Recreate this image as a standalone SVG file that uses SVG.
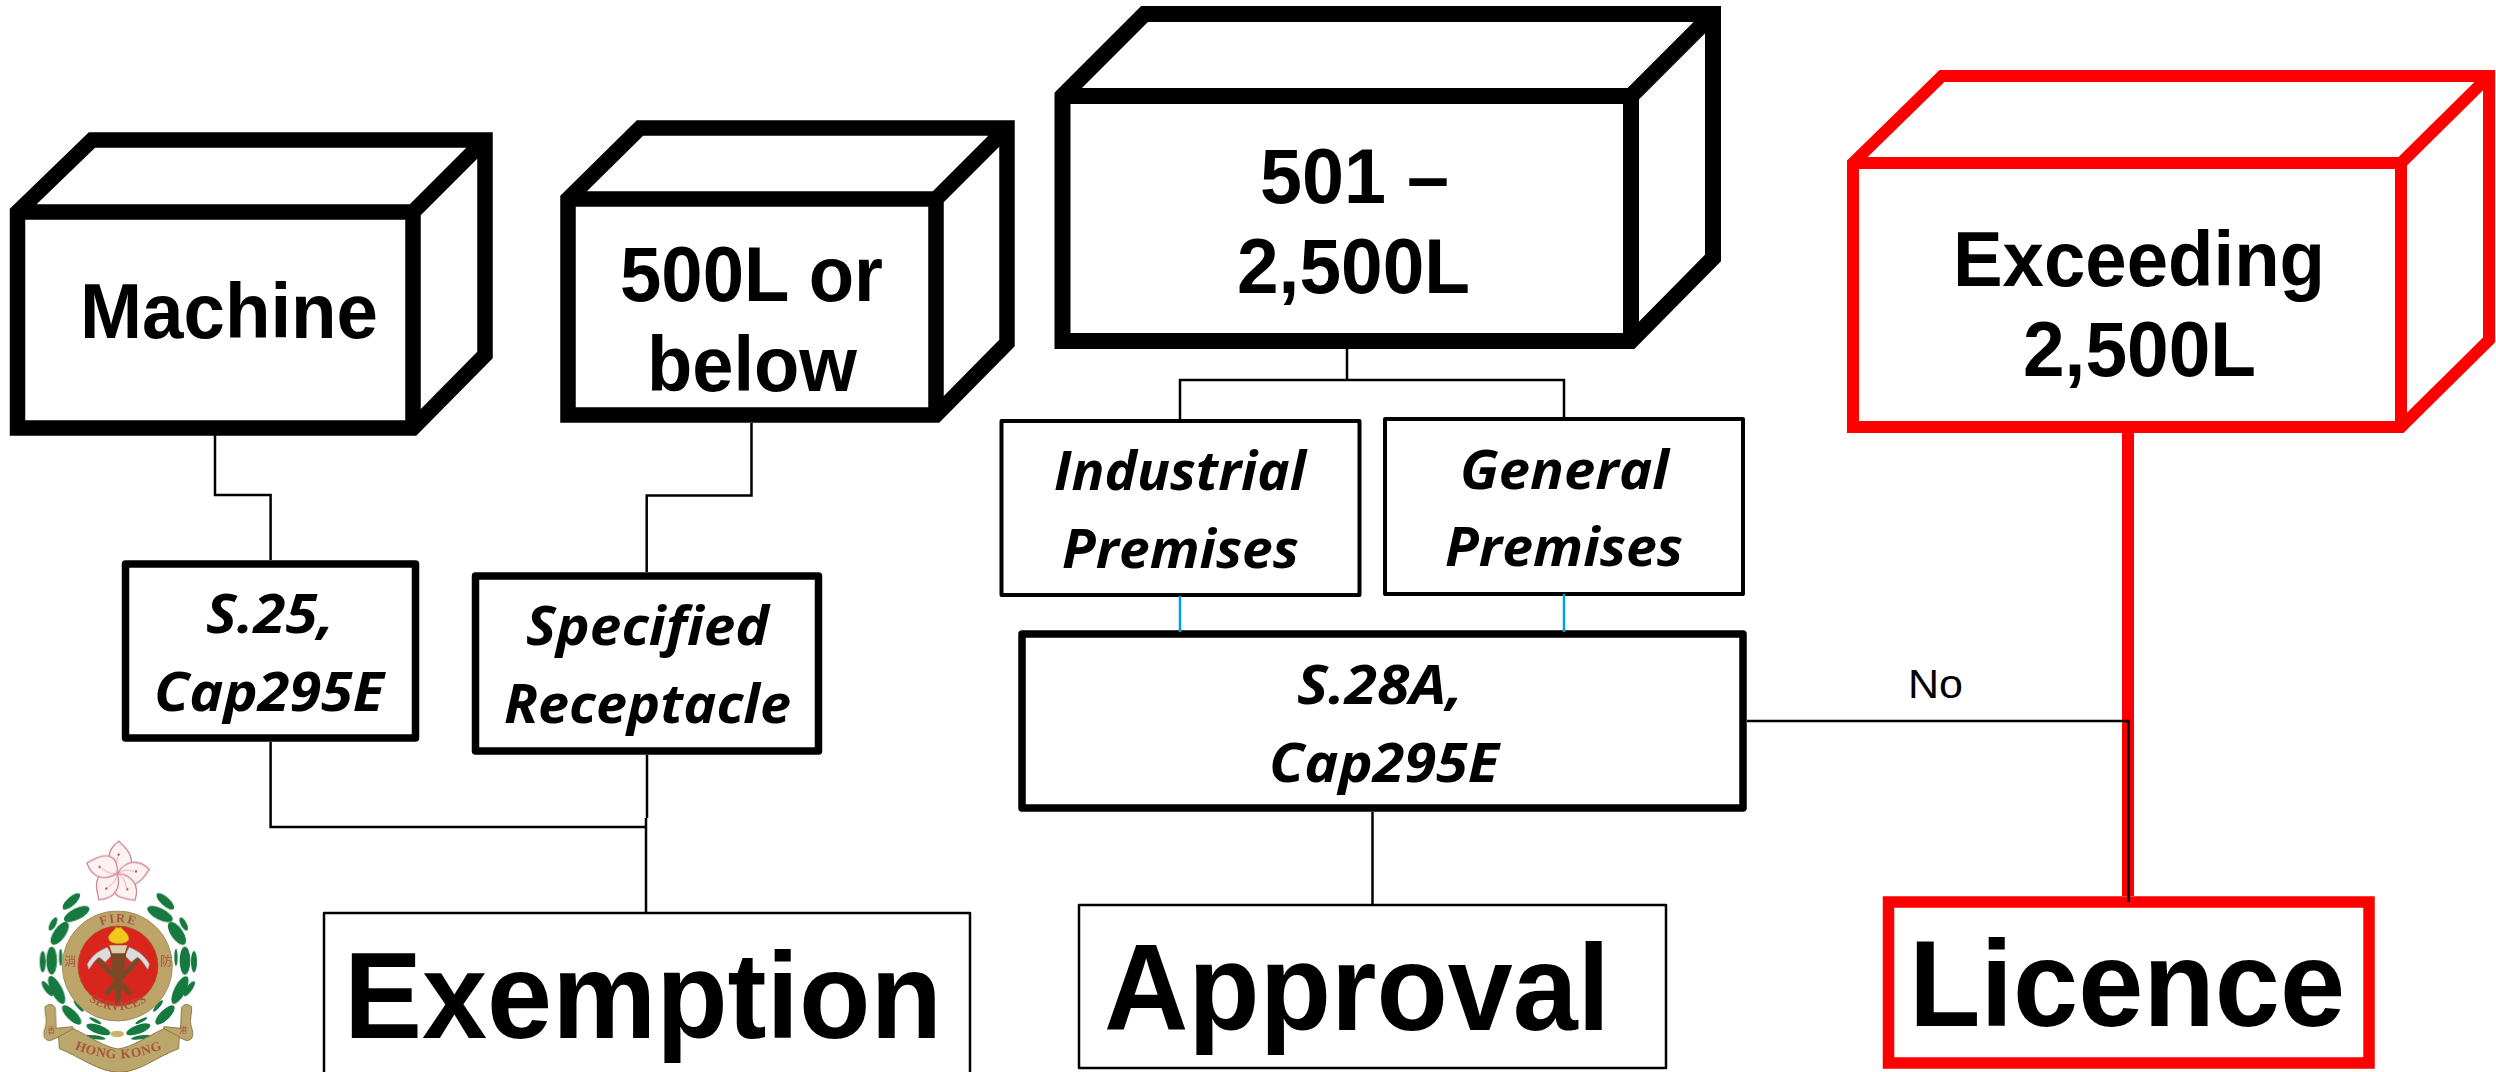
<svg xmlns="http://www.w3.org/2000/svg" xmlns:xlink="http://www.w3.org/1999/xlink" width="2496" height="1072" viewBox="0 0 2496 1072">
<style>
.cube{fill:#fff;stroke:#000;stroke-linejoin:miter}
.box{fill:#fff;stroke:#000;stroke-linejoin:round}
.red{stroke:#f00;stroke-linejoin:miter}
.h{font-family:"Liberation Sans",Arial,sans-serif;font-weight:700;fill:#000}
.c{font-size:77px}
.b{font-size:122px}
.i{font-family:"Open Sans","Noto Sans",sans-serif;font-weight:700;font-style:italic;font-size:54px;fill:#000}
.n{font-family:"Liberation Sans",Arial,sans-serif;font-size:41px;fill:#000}
.l{fill:none;stroke:#000;stroke-width:2.5}
.lb{fill:none;stroke:#00a0e0;stroke-width:2.5}
.lf{fill:#15793f}
.lt{font-family:"Liberation Serif",serif;font-weight:700;fill:#a9553c}
.lc{font-family:"Noto Sans CJK TC",sans-serif;fill:#a9553c;font-size:36px}
.lc2{font-size:24px}
.pt{fill:#fdf1f1;stroke:#cf8a96;stroke-width:4}
.rb{fill:#bba66c;stroke:#8c7a4c;stroke-width:3}
</style>
<defs>
<filter id="soft" x="-5%" y="-5%" width="110%" height="110%"><feGaussianBlur stdDeviation="1.2"/></filter>
<g id="petal">
<path class="pt" d="M0 0C-38 -24 -46 -62 -12 -96C4 -84 34 -68 36 -38C37 -20 18 -8 0 0Z"/>
<circle cx="-6" cy="-56" r="3.5" fill="#c8405a"/>
<path d="M0 0C-10 -14 -12 -30 -6 -50" fill="none" stroke="#e58fa0" stroke-width="2"/>
</g>
<g id="half">
<ellipse class="lf" cx="124" cy="184" rx="34" ry="13" transform="rotate(-42 124 184)"/>
<ellipse class="lf" cx="140" cy="222" rx="42" ry="17" transform="rotate(-27 140 222)"/>
<ellipse class="lf" cx="69" cy="252" rx="22" ry="9" transform="rotate(-62 69 252)"/>
<ellipse class="lf" cx="89" cy="280" rx="40" ry="18" transform="rotate(-55 89 280)"/>
<ellipse class="lf" cx="38" cy="365" rx="32" ry="9" transform="rotate(90 38 365)"/>
<ellipse class="lf" cx="65" cy="362" rx="42" ry="16" transform="rotate(90 65 362)"/>
<ellipse class="lf" cx="92" cy="352" rx="26" ry="5" transform="rotate(90 92 352)"/>
<ellipse class="lf" cx="52" cy="446" rx="27" ry="9" transform="rotate(55 52 446)"/>
<ellipse class="lf" cx="80" cy="450" rx="46" ry="17" transform="rotate(63 80 450)"/>
<ellipse class="lf" cx="125" cy="525" rx="38" ry="15" transform="rotate(45 125 525)"/>
<ellipse class="lf" cx="146" cy="498" rx="22" ry="6" transform="rotate(50 146 498)"/>
<ellipse class="lf" cx="205" cy="568" rx="38" ry="13" transform="rotate(20 205 568)"/>
<ellipse class="lf" cx="197" cy="592" rx="30" ry="6" transform="rotate(8 197 592)"/>
<ellipse class="lf" cx="196" cy="542" rx="20" ry="5" transform="rotate(28 196 542)"/>
<path class="rb" d="M45 500C60 488 76 494 76 510L78 565L128 560L130 572L60 602C40 600 38 585 46 560C52 540 44 520 45 500Z"/>
</g>
<path id="fireArc" d="M160 300A130 130 0 0 1 370 300"/>
<path id="servArc" d="M152 460A150 150 0 0 0 376 460"/>
<path id="hkArc" d="M100 610Q265 700 432 610"/>
</defs>

<g id="machine">
<path class="cube" stroke-width="15.5" d="M17.5 212L92 140H485V355L413 428H17.5ZM17.5 212H413V428M413 212L485 140"/>
<text class="h c" x="80" y="338" textLength="298" lengthAdjust="spacingAndGlyphs">Machine</text>
</g>
<g id="below500">
<path class="cube" stroke-width="15.5" d="M568 199L640 128H1007V343L936 415H568ZM568 199H936V415M936 199L1007 128"/>
<text class="h c" x="620" y="301" textLength="263" lengthAdjust="spacingAndGlyphs">500L or</text>
<text class="h c" x="647" y="391" textLength="210" lengthAdjust="spacingAndGlyphs">below</text>
</g>
<g id="mid2500">
<path class="cube" stroke-width="16" d="M1062.5 96L1144.5 14H1713V258L1631 341H1062.5ZM1062.5 96H1631V341M1631 96L1713 14"/>
<text class="h c" x="1260" y="203" textLength="189" lengthAdjust="spacingAndGlyphs">501 –</text>
<text class="h c" x="1237" y="293" textLength="233" lengthAdjust="spacingAndGlyphs">2,500L</text>
</g>
<g id="exceeding">
<path class="cube red" stroke-width="12" d="M1853 163L1942 76H2489V340L2401 427H1853ZM1853 163H2401V427M2401 163L2489 76"/>
<text class="h c" x="1953" y="286" textLength="372" lengthAdjust="spacingAndGlyphs">Exceeding</text>
<text class="h c" x="2023" y="376" textLength="233" lengthAdjust="spacingAndGlyphs">2,500L</text>
</g>
<g id="s25">
<rect class="box" x="125.5" y="564" width="290" height="174" stroke-width="7.5"/>
<text class="i" x="206" y="633" textLength="128" lengthAdjust="spacingAndGlyphs">S.25,</text>
<text class="i" x="154" y="711" textLength="230" lengthAdjust="spacingAndGlyphs">Cap295E</text>
</g>
<g id="specified">
<rect class="box" x="475.5" y="576" width="343" height="175" stroke-width="7.5"/>
<text class="i" x="526" y="645" textLength="243" lengthAdjust="spacingAndGlyphs">Specified</text>
<text class="i" x="504" y="723" textLength="287" lengthAdjust="spacingAndGlyphs">Receptacle</text>
</g>
<g id="industrial">
<rect class="box" x="1001.5" y="421" width="358" height="174" stroke-width="4"/>
<text class="i" x="1054" y="490" textLength="252" lengthAdjust="spacingAndGlyphs">Industrial</text>
<text class="i" x="1062" y="568" textLength="237" lengthAdjust="spacingAndGlyphs">Premises</text>
</g>
<g id="general">
<rect class="box" x="1385" y="419" width="358" height="175" stroke-width="4"/>
<text class="i" x="1460" y="489" textLength="209" lengthAdjust="spacingAndGlyphs">General</text>
<text class="i" x="1445" y="566" textLength="238" lengthAdjust="spacingAndGlyphs">Premises</text>
</g>
<g id="s28a">
<rect class="box" x="1022" y="634" width="721" height="174" stroke-width="7.5"/>
<text class="i" x="1297" y="704" textLength="166" lengthAdjust="spacingAndGlyphs">S.28A,</text>
<text class="i" x="1269" y="782" textLength="230" lengthAdjust="spacingAndGlyphs">Cap295E</text>
</g>
<g id="exemption">
<rect class="box" x="324" y="913" width="646" height="180" stroke-width="2.5"/>
<text class="h b" x="344" y="1038" textLength="598" lengthAdjust="spacingAndGlyphs">Exemption</text>
</g>
<g id="approval">
<rect class="box" x="1079" y="905" width="587" height="163" stroke-width="2.5"/>
<text class="h b" x="1104" y="1030" textLength="506" lengthAdjust="spacingAndGlyphs">Approval</text>
</g>
<g id="licence">
<rect class="box red" x="1888.5" y="902" width="480.5" height="161" stroke-width="11.5"/>
<text class="h b" x="1909" y="1026" textLength="436" lengthAdjust="spacingAndGlyphs">Licence</text>
</g>

<g id="connectors">
<path d="M2128 433V896" fill="none" stroke="#f00" stroke-width="12"/>
<path class="l" d="M215 435V495H270.6V560"/>
<path class="l" d="M751.5 423V495.6H646.7V572"/>
<path class="l" d="M270.6 742V827H646"/>
<path class="l" d="M647 755V818"/>
<path class="l" d="M646 818V913"/>
<path class="l" d="M1347 349V380M1180 419V380H1564V417"/>
<path class="lb" d="M1180 596V632"/>
<path class="lb" d="M1564 594V632"/>
<path class="l" d="M1372.5 812V905"/>
<path class="l" d="M1747 721H2128.6V902"/>
<text class="n" x="1908" y="698" textLength="55" lengthAdjust="spacingAndGlyphs">No</text>
</g>

<g id="logo" transform="translate(30 840) scale(.3333)" filter="url(#soft)">
<use xlink:href="#petal" transform="translate(262 100) rotate(10)"/>
<use xlink:href="#petal" transform="translate(262 100) rotate(90)"/>
<use xlink:href="#petal" transform="translate(262 100) rotate(154)"/>
<use xlink:href="#petal" transform="translate(262 100) rotate(222)"/>
<use xlink:href="#petal" transform="translate(262 100) rotate(296)"/>
<use xlink:href="#half"/>
<use xlink:href="#half" transform="translate(530) scale(-1 1)"/>
<ellipse cx="262" cy="582" rx="20" ry="10" fill="#c9b468"/>
<circle cx="262" cy="378" r="165" fill="#bda56b" stroke="#a18e5c" stroke-width="3"/>
<circle cx="264" cy="378" r="120" fill="#d8281e" stroke="#a8452a" stroke-width="2"/>
<path d="M330 352L232 458" stroke="#7c4a26" stroke-width="16" stroke-linecap="round"/>
<path d="M198 352L298 458" stroke="#7c4a26" stroke-width="16" stroke-linecap="round"/>
<path d="M172 372C190 340 214 330 232 322L246 346L226 366L208 352C196 356 182 382 176 388Z" fill="#dcdcdc" stroke="#9a9a9a" stroke-width="2"/>
<path d="M358 372C340 340 316 330 298 322L284 346L304 366L322 352C334 356 348 382 354 388Z" fill="#dcdcdc" stroke="#9a9a9a" stroke-width="2"/>
<path d="M240 328H290L272 490H258Z" fill="#7c4a26"/>
<path d="M238 316H292L284 340H246Z" fill="#d9cfae"/>
<path d="M236 296C234 280 252 276 258 262C268 268 272 258 274 264C280 272 298 282 296 298C294 314 240 316 236 296Z" fill="#f2c81e" stroke="#c9981a" stroke-width="2"/>
<text class="lt" font-size="38" letter-spacing="4"><textPath href="#fireArc" startOffset="50%" text-anchor="middle">FIRE</textPath></text>
<text class="lt" font-size="36" letter-spacing="1"><textPath href="#servArc" startOffset="50%" text-anchor="middle">SERVICES</textPath></text>
<text class="lc" x="103" y="378">消</text>
<text class="lc" x="390" y="378">防</text>
<path class="rb" d="M86 590L130 566C180 590 225 622 264 627C305 622 350 590 402 566L448 590L446 626C380 650 330 696 268 697C205 696 150 650 88 626Z"/>
<text class="lt" font-size="40" letter-spacing="2"><textPath href="#hkArc" startOffset="50%" text-anchor="middle">HONG KONG</textPath></text>
<text class="lc lc2" x="52" y="578">香</text>
<text class="lc lc2" x="448" y="578">港</text>
</g>
</svg>
